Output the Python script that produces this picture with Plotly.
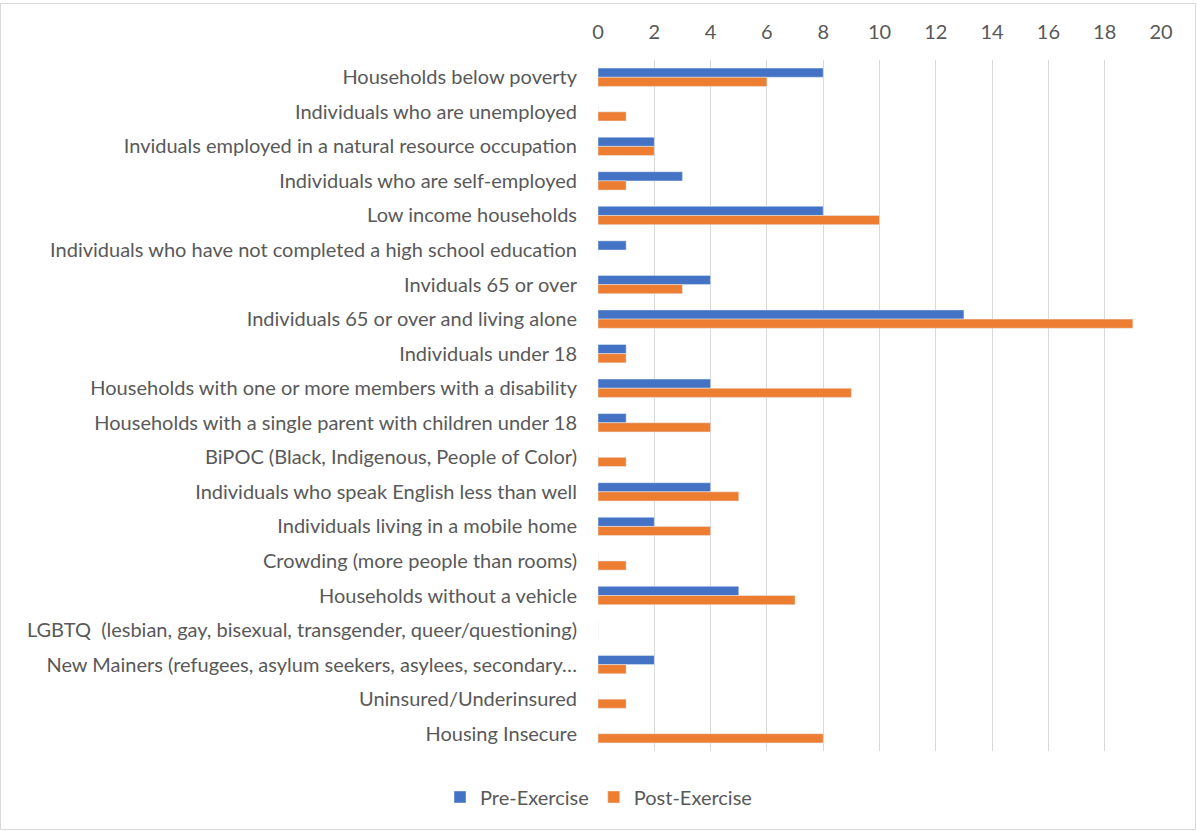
import plotly.graph_objects as go

categories = [
    "Households below poverty",
    "Individuals who are unemployed",
    "Inviduals employed in a natural resource occupation",
    "Individuals who are self-employed",
    "Low income households",
    "Individuals who have not completed a high school education",
    "Inviduals 65 or over",
    "Individuals 65 or over and living alone",
    "Individuals under 18",
    "Households with one or more members with a disability",
    "Households with a single parent with children under 18",
    "BiPOC (Black, Indigenous, People of Color)",
    "Individuals who speak English less than well",
    "Individuals living in a mobile home",
    "Crowding (more people than rooms)",
    "Households without a vehicle",
    "LGBTQ  (lesbian, gay, bisexual, transgender, queer/questioning)",
    "New Mainers (refugees, asylum seekers, asylees, secondary…",
    "Uninsured/Underinsured",
    "Housing Insecure",
]
pre_exercise = [8, 0, 2, 3, 8, 1, 4, 13, 1, 4, 1, 0, 4, 2, 0, 5, 0, 2, 0, 0]
post_exercise = [6, 1, 2, 1, 10, 0, 3, 19, 1, 9, 4, 1, 5, 4, 1, 7, 0, 1, 1, 8]
x_ticks = list(range(0, 21, 2))

W, H = 1197, 831
L, R, T, B = 598, 36, 60, 80
FONT = "Lato"
GREY = "#595959"

fig = go.Figure()
fig.add_trace(go.Bar(name="Pre-Exercise", y=categories, x=pre_exercise,
                     orientation="h", marker_color="#4472C4"))
fig.add_trace(go.Bar(name="Post-Exercise", y=categories, x=post_exercise,
                     orientation="h", marker_color="#ED7D31"))

# outer chart border, expressed in paper coordinates
pw, ph = W - L - R, H - T - B
def px_x(v):
    return (v - L) / pw
def px_y(v):
    return (H - B - v) / ph

fig.add_shape(type="rect", xref="paper", yref="paper",
              x0=px_x(0.5), x1=px_x(W - 1.5), y0=px_y(H - 1.5), y1=px_y(3.5),
              line=dict(color="#D9D9D9", width=1), layer="below")

fig.update_layout(
    width=W, height=H,
    margin=dict(l=L, r=R, t=T, b=B, autoexpand=False),
    paper_bgcolor="white", plot_bgcolor="white",
    barmode="group", bargap=0.47, bargroupgap=0,
    font=dict(family=FONT, size=20, color=GREY),
    xaxis=dict(side="top", range=[0, 20], tickvals=x_ticks,
               showgrid=True, gridcolor="#D9D9D9", gridwidth=1,
               zeroline=False, showline=False, ticks="",
               ticklabelstandoff=16, fixedrange=True),
    yaxis=dict(autorange="reversed", showgrid=False, zeroline=False,
               showline=False, ticks="", ticklabelstandoff=20,
               automargin=False),
    legend=dict(orientation="h", xref="container", yref="container",
                x=0.5, xanchor="center", y=(H - 797) / H, yanchor="middle",
                font=dict(size=20, color=GREY), itemwidth=30,
                traceorder="normal"),
    showlegend=True,
)

fig.write_html("out.html")
